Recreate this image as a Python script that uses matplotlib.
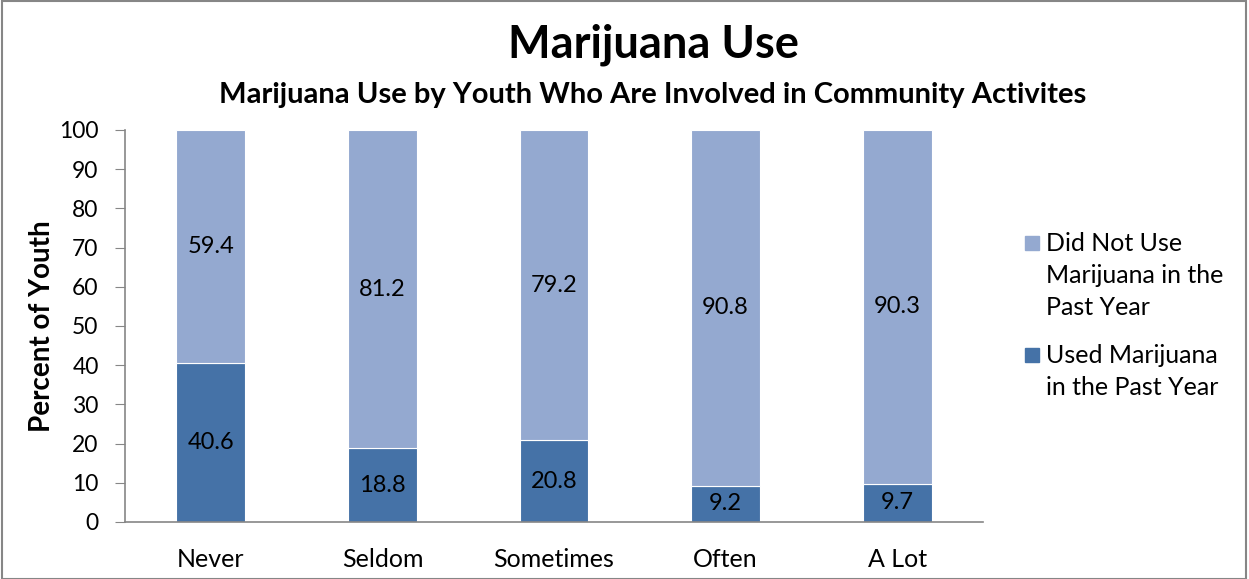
import matplotlib.pyplot as plt
from matplotlib.patches import Rectangle

categories = ["Never", "Seldom", "Sometimes", "Often", "A Lot"]
used = [40.6, 18.8, 20.8, 9.2, 9.7]
not_used = [59.4, 81.2, 79.2, 90.8, 90.3]
yticks = list(range(0, 101, 10))
legend_labels = ['Did Not Use\nMarijuana in the\nPast Year', 'Used Marijuana\nin the Past Year']

plt.rcParams['font.family'] = ['Lato', 'DejaVu Sans']

dark = '#4572A7'
light = '#94A9D0'

fig = plt.figure(figsize=(12.49, 5.79), dpi=100)
ax = fig.add_axes([125 / 1249, 57 / 579, 858 / 1249, 392 / 579])

x = range(len(categories))
ax.bar(x, used, width=0.4, color=dark, edgecolor='white', linewidth=0.8)
ax.bar(x, not_used, width=0.4, bottom=used, color=light, edgecolor='white', linewidth=0.8)

for i, (u, n) in enumerate(zip(used, not_used)):
    ax.text(i, u / 2, f"{u:.1f}", ha='center', va='center', fontsize=17)
    ax.text(i, u + n / 2, f"{n:.1f}", ha='center', va='center', fontsize=17)

ax.set_xlim(-0.5, len(categories) - 0.5)
ax.set_ylim(0, 100)
ax.set_yticks(yticks)
ax.set_xticks(list(x))
ax.set_xticklabels(categories, fontsize=18)
ax.tick_params(axis='y', labelsize=16.5, length=7, color='#868686', direction='out', pad=12)
ax.tick_params(axis='x', length=0, pad=19)
for side in ['top', 'right']:
    ax.spines[side].set_visible(False)
for side in ['left', 'bottom']:
    ax.spines[side].set_color('#868686')
    ax.spines[side].set_linewidth(1.2)

ax.set_ylabel('Percent of Youth', fontsize=20, fontweight='bold', labelpad=3)

fig.text(653 / 1249, 1 - 45 / 579, 'Marijuana Use', ha='center', va='center',
         fontsize=32.5, fontweight='bold')
fig.text(653 / 1249, 1 - 95 / 579,
         'Marijuana Use by Youth Who Are Involved in Community Activites',
         ha='center', va='center', fontsize=21, fontweight='bold')

# legend drawn by hand: Excel puts the marker beside the first line of each entry
W, H = 1249, 579
for label, color, top in zip(legend_labels, [light, dark], [243, 355]):
    fig.patches.append(Rectangle((1025 / W, 1 - (top + 7) / H), 14 / W, 14 / H,
                                 transform=fig.transFigure, color=color))
    fig.text(1046 / W, 1 - (top - 11) / H, label, ha='left', va='top',
             fontsize=18, linespacing=1.48)

fig.patches.append(Rectangle((0.0015, 0), 0.996, 0.998, transform=fig.transFigure,
                             fill=False, edgecolor='#868686', linewidth=1.5))

fig.savefig('out.png', dpi=100)
